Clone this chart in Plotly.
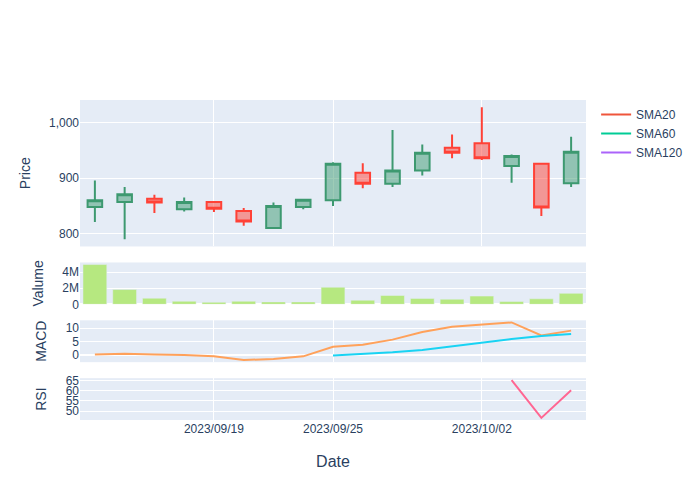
import plotly.graph_objects as go
from plotly.subplots import make_subplots

dates = ["2023/09/13", "2023/09/14", "2023/09/15", "2023/09/18", "2023/09/19",
         "2023/09/20", "2023/09/21", "2023/09/22", "2023/09/25", "2023/09/26",
         "2023/09/27", "2023/09/28", "2023/09/29", "2023/10/02", "2023/10/03",
         "2023/10/04", "2023/10/05"]
open_ = [848, 857, 863, 844, 857, 841, 810, 848, 860, 910, 890, 914, 955, 963, 922, 926, 891]
high = [896, 884, 870, 865, 859, 846, 856, 863, 929, 927, 987, 961, 979, 1028, 943, 928, 975]
low = [821, 790, 837, 840, 839, 814, 810, 844, 850, 882, 884, 905, 936, 933, 892, 832, 884]
close = [860, 871, 856, 857, 845, 822, 850, 861, 926, 890, 914, 946, 946, 936, 940, 847, 948]
volume = [4930000, 1830000, 760000, 380000, 250000, 380000, 300000, 300000, 2120000,
          510000, 1100000, 730000, 640000, 1020000, 340000, 680000, 1360000]
sma20 = [None] * 17
sma60 = [None] * 17
sma120 = [None] * 17
macd = [0.1, 0.4, 0.1, -0.1, -0.6, -2.0, -1.6, -0.6, 3.0, 3.8, 5.7, 8.6, 10.6, 11.4, 12.2, 7.3, 9.1]
signal = [None, None, None, None, None, None, None, None,
          -0.25, 0.25, 0.9, 1.8, 3.2, 4.4, 5.9, 7.1, 7.8]
rsi = [None] * 14 + [65.3, 46.6, 60.3]
tick_dates = ["2023/09/19", "2023/09/25", "2023/10/02"]

fig = make_subplots(rows=4, cols=1, shared_xaxes=True, vertical_spacing=0.05,
                    row_heights=[0.7, 0.2, 0.2, 0.2])

fig.add_trace(go.Candlestick(x=dates, open=open_, high=high, low=low, close=close,
                             showlegend=False, name="Price"), row=1, col=1)
fig.add_trace(go.Scatter(x=dates, y=sma20, mode="lines", name="SMA20",
                         line=dict(color="#EF553B")), row=1, col=1)
fig.add_trace(go.Scatter(x=dates, y=sma60, mode="lines", name="SMA60",
                         line=dict(color="#00CC96")), row=1, col=1)
fig.add_trace(go.Scatter(x=dates, y=sma120, mode="lines", name="SMA120",
                         line=dict(color="#AB63FA")), row=1, col=1)
fig.add_trace(go.Bar(x=dates, y=volume, marker_color="#B6E880", showlegend=False,
                     name="Volume"), row=2, col=1)
fig.add_trace(go.Scatter(x=dates, y=macd, mode="lines", line=dict(color="#FFA15A"),
                         showlegend=False, name="MACD"), row=3, col=1)
fig.add_trace(go.Scatter(x=dates, y=signal, mode="lines", line=dict(color="#19D3F3"),
                         showlegend=False, name="Signal"), row=3, col=1)
fig.add_trace(go.Scatter(x=dates, y=rsi, mode="lines", line=dict(color="#FF6692"),
                         showlegend=False, name="RSI"), row=4, col=1)

for r in range(1, 5):
    fig.update_xaxes(type="category", tickvals=tick_dates, row=r, col=1)
fig.update_xaxes(rangeslider_visible=False)
fig.update_xaxes(title_text="Date", title_font_size=16, title_standoff=20, row=4, col=1)
fig.update_yaxes(title_text="Price", tickformat=",", row=1, col=1)
fig.update_yaxes(title_text="Valume", row=2, col=1)
fig.update_yaxes(title_text="MACD", row=3, col=1)
fig.update_yaxes(title_text="RSI", dtick=5, row=4, col=1)
fig.update_layout(width=692, height=492,
                  font=dict(family="Liberation Sans, Arial, sans-serif"),
                  margin=dict(l=72, r=114, t=92, b=80))

fig.write_html("out.html")
